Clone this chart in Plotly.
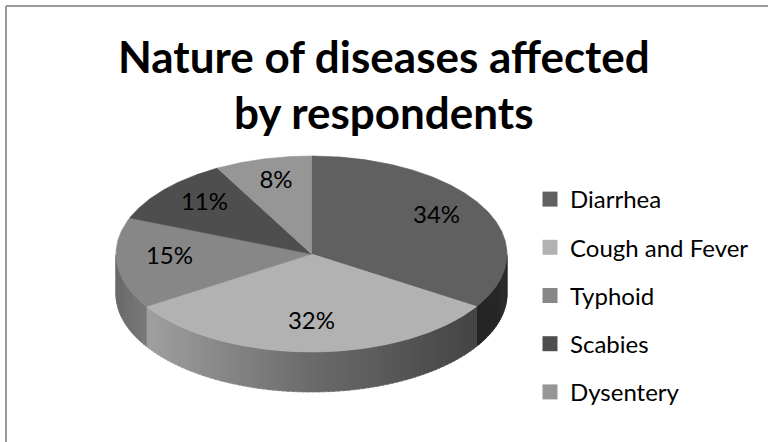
import numpy as np
import plotly.graph_objects as go

# ---------------- data ----------------
title_lines = ["Nature of diseases affected", "by respondents"]
categories = ["Diarrhea", "Cough and Fever", "Typhoid", "Scabies", "Dysentery"]
values = [34, 32, 15, 11, 8]
colors = ["#606060", "#b2b2b2", "#878787", "#4e4e4e", "#969696"]

# ---------------- geometry / style ----------------
W, H = 768, 442
CX, CY, RX, RY, DEPTH = 311.5, 254.0, 195.5, 98.0, 40.0
LABEL_R = 0.73
FONT = "Lato"
shade_u = [-1.0, -0.85, 0.0, 0.85, 1.0]
shade_f = [0.78, 0.90, 0.60, 0.38, 0.42]


def hex2rgb(h):
    h = h.lstrip("#")
    return [int(h[i:i + 2], 16) for i in (0, 2, 4)]


def rgb(c, f=1.0):
    r, g, b = [max(0, min(255, int(round(v * f)))) for v in c]
    return f"rgb({r},{g},{b})"


def ell(theta_deg, r=1.0, dy=0.0):
    t = np.radians(theta_deg)
    return CX + RX * r * np.sin(t), CY - RY * r * np.cos(t) + dy


total = float(sum(values))
bounds = np.concatenate([[0.0], np.cumsum(values) / total * 360.0])

fig = go.Figure()

# side walls (visible front half) with shading strips
for i, c in enumerate(colors):
    base = hex2rgb(c)
    a0, a1 = bounds[i], bounds[i + 1]
    s0, s1 = max(a0, 90.0), min(a1, 270.0)
    if s1 <= s0:
        continue
    n = max(1, int(np.ceil((s1 - s0) / 1.5)))
    edges = np.linspace(s0, s1, n + 1)
    for k in range(n):
        e0, e1 = edges[k], min(edges[k + 1] + 0.4, s1)
        t = np.linspace(e0, e1, 4)
        xt, yt = ell(t)
        xb, yb = ell(t[::-1], dy=DEPTH)
        mid = 0.5 * (e0 + e1)
        u = np.sin(np.radians(mid))
        f = np.interp(u, shade_u, shade_f)
        col = rgb(base, f)
        fig.add_trace(go.Scatter(
            x=np.concatenate([xt, xb, xt[:1]]),
            y=np.concatenate([yt, yb, yt[:1]]),
            mode="lines", fill="toself", fillcolor=col,
            line=dict(color=col, width=0.6),
            hoverinfo="skip", showlegend=False))

# top faces
for i, c in enumerate(colors):
    a0, a1 = bounds[i], bounds[i + 1]
    t = np.linspace(a0, a1, max(8, int((a1 - a0) * 2)))
    xs, ys = ell(t)
    fig.add_trace(go.Scatter(
        x=np.concatenate([[CX], xs, [CX]]),
        y=np.concatenate([[CY], ys, [CY]]),
        mode="lines", fill="toself", fillcolor=c,
        line=dict(color=c, width=0.6),
        hoverinfo="skip", showlegend=False))

# percentage labels
mids = 0.5 * (bounds[:-1] + bounds[1:])
lx, ly = ell(mids, r=LABEL_R)
fig.add_trace(go.Scatter(
    x=lx, y=ly - 3, mode="text",
    text=[f"{round(v / total * 100)}%" for v in values],
    textposition="middle center",
    textfont=dict(family=FONT, size=24, color="#000000"),
    hoverinfo="skip", showlegend=False))

# legend entries
for i, (cat, c) in enumerate(zip(categories, colors)):
    fig.add_trace(go.Scatter(
        x=[None], y=[None], mode="markers", name=cat,
        legendgroup=f"g{i}",
        marker=dict(symbol="square", size=15, color=c)))

# title
for j, line in enumerate(title_lines):
    fig.add_annotation(
        x=W / 2, y=56 + 56 * j, xref="x", yref="y",
        text=f"<b>{line}</b>", showarrow=False,
        xanchor="center", yanchor="middle",
        font=dict(family=FONT, size=44, color="#000000"))

# chart border (top & left visible)
fig.add_shape(type="line", x0=6, y0=6, x1=W, y1=6, xref="x", yref="y",
              line=dict(color="#9a9a9a", width=2))
fig.add_shape(type="line", x0=6, y0=6, x1=6, y1=H, xref="x", yref="y",
              line=dict(color="#9a9a9a", width=2))

fig.update_layout(
    width=W, height=H,
    margin=dict(l=0, r=0, t=0, b=0, pad=0),
    paper_bgcolor="white", plot_bgcolor="white",
    xaxis=dict(range=[0, W], visible=False, fixedrange=True),
    yaxis=dict(range=[H, 0], visible=False, fixedrange=True),
    showlegend=True,
    legend=dict(x=530 / W, y=1 - 177 / H, xanchor="left", yanchor="top",
                font=dict(family=FONT, size=24, color="#000000"),
                tracegroupgap=14, itemwidth=30, bgcolor="rgba(0,0,0,0)"),
)

fig.write_html("out.html")
